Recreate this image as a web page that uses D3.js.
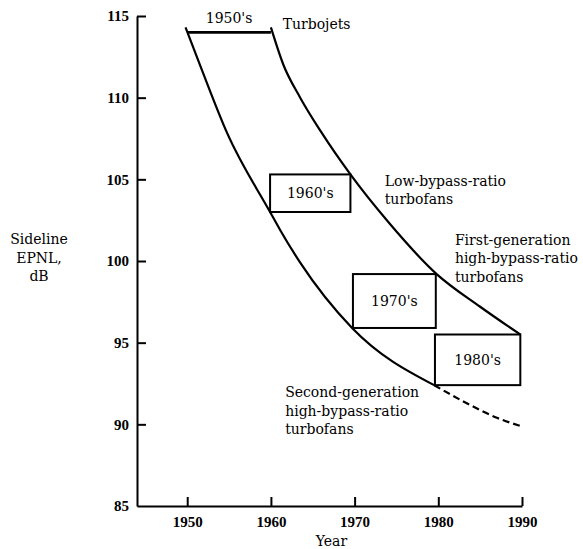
<!DOCTYPE html>
<html>
<head>
<meta charset="utf-8">
<script src="https://cdn.jsdelivr.net/npm/d3@7"></script>
<style>
  html, body { margin: 0; padding: 0; background: #fff; }
  svg { display: block; }
  text { fill: #000; }
</style>
</head>
<body>
<div id="chart"></div>
<script>
// ---- data ----
const xTicks = [1950, 1960, 1970, 1980, 1990];
const yTicks = [85, 90, 95, 100, 105, 110, 115];
const xDomain = [1944, 1990];
const yDomain = [85, 115];

// upper boundary (turbojets -> low-bypass -> first-generation high-bypass)
const upperYears = [1960, 1961.5, 1963.5, 1966, 1969.5, 1974, 1979.8, 1985, 1989.8];
const upperDb    = [114.3, 112.0, 110.0, 107.9, 105.3, 102.4, 99.2, 97.2, 95.5];

// lower boundary (solid part)
const lowerYears = [1949.8, 1951.6, 1954.8, 1959.9, 1961.1, 1963.5, 1969.7, 1979.5];
const lowerDb    = [114.3, 111.9, 107.8, 103.0, 101.9, 99.9, 95.9, 92.4];

// projected (dashed) continuation
const projYears = [1979.5, 1983, 1987, 1989.8];
const projDb    = [92.4, 91.4, 90.4, 89.9];

// 1950's bar
const decade1950 = { label: "1950's", x0: 1950, x1: 1960, db: 114 };

// decade boxes
const boxLabels = ["1960's", "1970's", "1980's"];
const boxX0 = [1959.9, 1969.8, 1979.6];
const boxX1 = [1969.5, 1979.7, 1989.8];
const boxTop = [105.3, 99.2, 95.5];
const boxBottom = [103.0, 95.9, 92.4];

// annotations
const annotations = [
  { lines: ["Turbojets"], year: 1961.4, db: 114.2 },
  { lines: ["Low-bypass-ratio", "turbofans"], year: 1973.6, db: 104.6 },
  { lines: ["First-generation", "high-bypass-ratio", "turbofans"], year: 1981.98, db: 101.0 },
  { lines: ["Second-generation", "high-bypass-ratio", "turbofans"], year: 1961.7, db: 91.65 }
];
const yTitle = ["Sideline", "EPNL,", "dB"];
const xTitle = "Year";

// ---- drawing ----
const W = 583, H = 549;
const svg = d3.select("#chart").append("svg").attr("width", W).attr("height", H);

const x = d3.scaleLinear().domain(xDomain).range([137, 522]);
const y = d3.scaleLinear().domain(yDomain).range([506, 16]);

const serif = "'DejaVu Serif', serif";
const tickFont = "'Liberation Serif', 'Times New Roman', serif";

// axes
const gx = svg.append("g").attr("transform", `translate(0,${y(85)})`)
  .call(d3.axisBottom(x).tickValues(xTicks).tickFormat(d3.format("d"))
        .tickSize(-9).tickSizeOuter(0).tickPadding(10));
const gy = svg.append("g").attr("transform", `translate(${x(xDomain[0])},0)`)
  .call(d3.axisLeft(y).tickValues(yTicks).tickFormat(d3.format("d"))
        .tickSize(-9).tickSizeOuter(0).tickPadding(8));
[gx, gy].forEach(g => {
  g.select(".domain").attr("stroke", "#000").attr("stroke-width", 2);
  g.selectAll(".tick line").attr("stroke", "#000").attr("stroke-width", 2);
  g.selectAll(".tick text").attr("font-family", tickFont).attr("font-size", 15)
    .attr("fill", "#000").attr("font-weight", "bold");
});
gy.selectAll(".tick").filter(d => d === 85).select("line").remove();

const line = d3.line().x(d => x(d[0])).y(d => y(d[1])).curve(d3.curveMonotoneX);

svg.append("path").datum(upperYears.map((v, i) => [v, upperDb[i]]))
  .attr("d", line).attr("fill", "none").attr("stroke", "#000").attr("stroke-width", 2.2);
svg.append("path").datum(lowerYears.map((v, i) => [v, lowerDb[i]]))
  .attr("d", line).attr("fill", "none").attr("stroke", "#000").attr("stroke-width", 2.2);
svg.append("path").datum(projYears.map((v, i) => [v, projDb[i]]))
  .attr("d", line).attr("fill", "none").attr("stroke", "#000").attr("stroke-width", 2.2)
  .attr("stroke-dasharray", "7,4");

// 1950's bar
svg.append("line")
  .attr("x1", x(decade1950.x0)).attr("x2", x(decade1950.x1))
  .attr("y1", y(decade1950.db)).attr("y2", y(decade1950.db))
  .attr("stroke", "#000").attr("stroke-width", 2.6);
svg.append("text")
  .attr("x", (x(decade1950.x0) + x(decade1950.x1)) / 2).attr("y", y(decade1950.db) - 9)
  .attr("text-anchor", "middle").attr("font-family", serif).attr("font-size", 14)
  .text(decade1950.label);

// decade boxes
boxLabels.forEach((lab, i) => {
  const x0 = x(boxX0[i]), x1 = x(boxX1[i]), y0 = y(boxTop[i]), y1 = y(boxBottom[i]);
  svg.append("rect").attr("x", x0).attr("y", y0).attr("width", x1 - x0).attr("height", y1 - y0)
    .attr("fill", "#fff").attr("stroke", "#000").attr("stroke-width", 2);
  svg.append("text").attr("x", (x0 + x1) / 2).attr("y", (y0 + y1) / 2)
    .attr("dy", "0.36em").attr("text-anchor", "middle")
    .attr("font-family", serif).attr("font-size", 14).text(lab);
});

// annotations
annotations.forEach(a => {
  const t = svg.append("text").attr("font-family", serif).attr("font-size", 14)
    .attr("x", x(a.year)).attr("y", y(a.db));
  a.lines.forEach((l, i) => {
    t.append("tspan").attr("x", x(a.year)).attr("dy", i === 0 ? 0 : 18.5).text(l);
  });
});

// axis titles
const yt = svg.append("text").attr("font-family", serif).attr("font-size", 14)
  .attr("text-anchor", "middle").attr("x", 39).attr("y", 244);
yTitle.forEach((l, i) => yt.append("tspan").attr("x", 39).attr("dy", i === 0 ? 0 : 18.5).text(l));

svg.append("text").attr("font-family", serif).attr("font-size", 14)
  .attr("text-anchor", "middle").attr("x", (x(xDomain[0]) + x(xDomain[1])) / 2 + 2).attr("y", 546)
  .text(xTitle);
</script>
</body>
</html>
